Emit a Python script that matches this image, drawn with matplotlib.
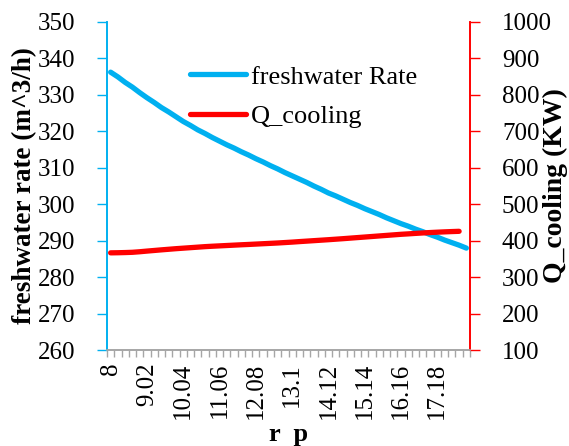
import numpy as np
from matplotlib import pyplot as plt

plt.rcParams['font.family'] = ['Liberation Serif', 'DejaVu Serif']

# 50 categories on r_p, label every 5th
xlabels = ["8", "9.02", "10.04", "11.06", "12.08", "13.1",
           "14.12", "15.14", "16.16", "17.18"]
n_cat = 50

freshwater = [336.2, 334.9, 333.4, 332.1, 330.6, 329.2, 327.9, 326.5, 325.3, 324.0,
              322.7, 321.6, 320.4, 319.4, 318.3, 317.3, 316.3, 315.4, 314.4, 313.5,
              312.5, 311.6, 310.6, 309.7, 308.7, 307.8, 306.9, 306.0, 305.0, 304.1,
              303.1, 302.3, 301.4, 300.5, 299.7, 298.8, 298.0, 297.2, 296.3, 295.5,
              294.7, 294.0, 293.2, 292.5, 291.7, 291.0, 290.2, 289.5, 288.8, 288.0]

q_cooling = [367.0, 367.3, 367.8, 368.5, 370.0, 371.8, 373.5, 375.2, 376.8, 378.4,
             379.8, 381.2, 382.6, 384.0, 385.1, 386.1, 387.1, 388.1, 389.1, 390.0,
             391.0, 392.0, 393.0, 394.0, 395.2, 396.4, 397.8, 399.1, 400.4, 401.7,
             403.0, 404.4, 405.8, 407.3, 408.8, 410.3, 411.8, 413.3, 414.8, 416.3,
             417.8, 419.0, 420.3, 421.5, 422.6, 423.6, 424.5, 425.3, 426.0]

blue = '#00B0F0'
red = '#FF0000'
fs = 18

fig = plt.figure(figsize=(5.69, 4.46), dpi=100)
ax = fig.add_axes([107/569, 1-350.3/446, 363/569, 328.5/446])
ax2 = ax.twinx()

l1, = ax.plot(np.arange(len(freshwater)), freshwater, color=blue, lw=3.8,
              solid_capstyle='round', label='freshwater Rate')
l2, = ax2.plot(np.arange(len(q_cooling)), q_cooling, color=red, lw=3.8,
               solid_capstyle='round', label='Q_cooling')

ax.set_xlim(-0.5, n_cat - 0.5)
ax.set_ylim(260, 350)
ax.set_yticks(np.arange(260, 351, 10))
ax2.set_ylim(100, 1000)
ax2.set_yticks(np.arange(100, 1001, 100))

ax.set_xticks(np.arange(0, n_cat, 5)[:len(xlabels)])
ax.set_xticklabels(xlabels, rotation=90)
ax.set_xticks(np.arange(n_cat + 1) - 0.5, minor=True)
ax.tick_params(axis='x', which='major', length=0, pad=9, labelsize=fs)
ax.tick_params(axis='x', which='minor', length=5, width=1, color='#A6A6A6')

ax.tick_params(axis='y', length=7, width=1, color=blue, labelsize=fs, pad=16)
ax2.tick_params(axis='y', length=7, width=1, color=red, labelsize=fs, pad=16)

for a in (ax, ax2):
    a.spines['top'].set_visible(False)
    a.spines['bottom'].set_color('#A6A6A6')
    a.spines['left'].set_color(blue)
    a.spines['right'].set_color(red)
    a.spines['bottom'].set_linewidth(1.2)
    a.spines['left'].set_linewidth(1.2)
    a.spines['right'].set_linewidth(1.2)

ax.set_ylabel('freshwater rate (m^3/h)', fontsize=19.5, fontweight='bold')
ax.yaxis.set_label_coords(-0.192, 0.5)
ax2.set_ylabel('Q_cooling (KW)', fontsize=20, fontweight='bold')
ax2.yaxis.set_label_coords(1.2, 0.5)
ax.set_xlabel('r  p', fontsize=19, fontweight='bold')
ax.xaxis.set_label_coords(0.5, -0.22)

ax.legend(handles=[l1, l2], loc='upper left', bbox_to_anchor=(0.2, 0.9),
          frameon=False, fontsize=19, handlelength=2.1, handletextpad=0.2,
          labelspacing=0.6, borderaxespad=0)

fig.savefig('out.png', dpi=100)
